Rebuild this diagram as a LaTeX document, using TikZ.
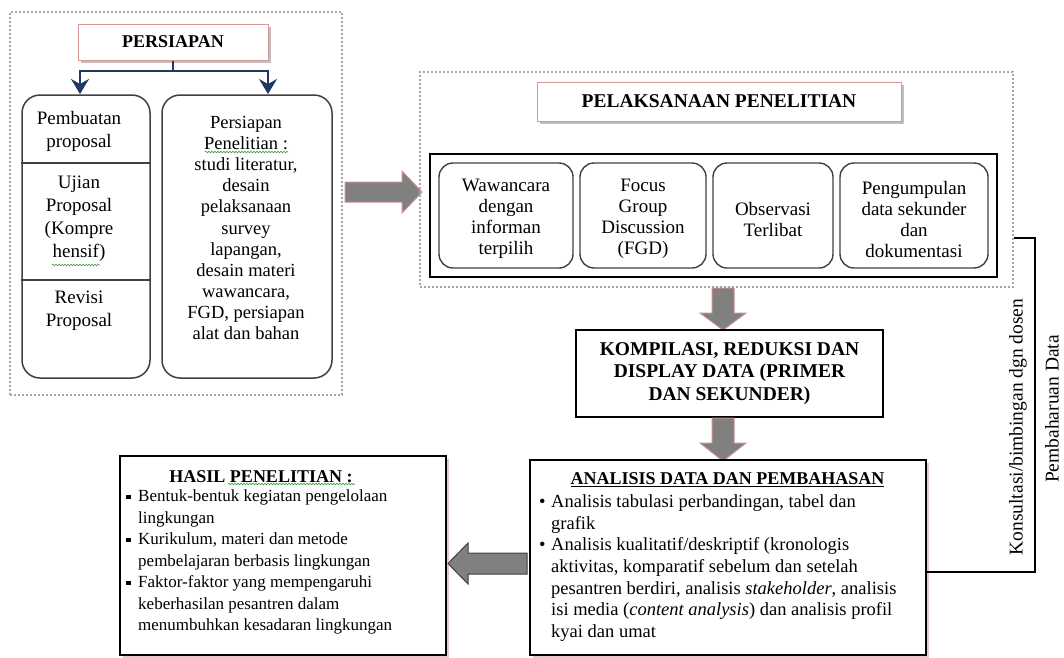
\documentclass[tikz,border=0pt]{standalone}
\usepackage{fontspec}
\setmainfont{Liberation Serif}
\usetikzlibrary{arrows.meta,decorations.pathmorphing,shadows,calc}
\definecolor{dotgray}{HTML}{A6A6A6}
\definecolor{pinkb}{HTML}{D99694}
\definecolor{shadowg}{HTML}{BFBFBF}
\definecolor{navy}{HTML}{1F3864}
\definecolor{arrgray}{HTML}{808080}
\definecolor{arrpink}{HTML}{C9908E}
\definecolor{boxline}{HTML}{404040}
\definecolor{wavy}{HTML}{33A02C}
\definecolor{pinkshadow}{HTML}{E3CACA}
\begin{document}
\begin{tikzpicture}[x=1pt,y=-1pt,
  dotbox/.style={draw=dotgray, line width=2.4pt, dash pattern=on 2pt off 2pt, inner sep=0pt},
  titlebox/.style={draw=pinkb, line width=1pt, fill=white, inner sep=0pt,
    drop shadow={shadow xshift=3pt, shadow yshift=-3pt, fill=shadowg, opacity=1}},
  rbox/.style={draw=boxline, line width=1.5pt, rounded corners=18pt, inner sep=0pt},
  ibox/.style={draw=boxline, line width=1.4pt, rounded corners=14pt, inner sep=0pt},
  sbox/.style={draw=black, line width=1.4pt, fill=white, inner sep=0pt},
  shbox/.style={sbox, drop shadow={shadow xshift=2.5pt, shadow yshift=-2.5pt, fill=pinkshadow, opacity=1}},
  txt/.style={inner sep=0pt, align=center, text=black},
  blockarrow/.style={fill=arrgray, draw=arrpink, line width=1pt},
  navyarrow/.style={draw=navy, line width=2pt, -{Stealth[length=15pt,width=18pt,inset=5pt]}},
  conn/.style={draw=black, line width=1.3pt},
  squiggle/.style={draw=wavy, line width=0.6pt, decorate, decoration={snake, amplitude=0.8pt, segment length=3pt}}
]
\useasboundingbox (0,0) rectangle (1064,657);

% ---------- PERSIAPAN ----------
\node[dotbox, minimum width=332pt, minimum height=383pt] (leftdots) at (176,203.5) {};
\node[titlebox, minimum width=190pt, minimum height=36pt, font=\bfseries\fontsize{18}{21}\selectfont] (persiapan) at (173,42) {PERSIAPAN};
\node[rbox, minimum width=128pt, minimum height=283pt] (leftcol) at (86,236.5) {};
\node[rbox, minimum width=170pt, minimum height=283pt] (rightcol) at (247,236.5) {};
\draw[boxline, line width=1.5pt] (leftcol.west |- 0,163) -- (leftcol.east |- 0,163);
\draw[boxline, line width=1.5pt] (leftcol.west |- 0,280) -- (leftcol.east |- 0,280);
\node[txt, font=\fontsize{19}{23}\selectfont] (pemb) at (79,131) {Pembuatan\\proposal};
\node[txt, font=\fontsize{19}{23}\selectfont] (ujian) at (79,219) {Ujian\\Proposal\\(Kompre\\hensif)};
\node[txt, font=\fontsize{19}{23}\selectfont] (revisi) at (79,311) {Revisi\\Proposal};
\node[txt, font=\fontsize{18.5}{21.1}\selectfont] (prep) at (246,228) {Persiapan\\Penelitian :\\studi literatur,\\desain\\pelaksanaan\\survey\\lapangan,\\desain materi\\wawancara,\\FGD, persiapan\\alat dan bahan};
\draw[squiggle] (205,152) -- (288,152);
\draw[squiggle] (52,265) -- (100,265);

\draw[navy, line width=2pt] (persiapan.south) -- ++(0,10) coordinate (pj);
\coordinate (la) at (80,94);
\coordinate (ra) at (268,94);
\draw[navyarrow] (pj) -| (la);
\draw[navyarrow] (pj) -| (ra);

% block arrow to PELAKSANAAN
\draw[blockarrow] (345,182) -- (402,182) -- (402,171) -- (422,192) -- (402,213) -- (402,202) -- (345,202) -- cycle;

% ---------- PELAKSANAAN ----------
\node[dotbox, minimum width=593pt, minimum height=215pt] (rightdots) at (716.5,179.5) {};
\node[titlebox, minimum width=364pt, minimum height=39pt, font=\bfseries\fontsize{19.5}{22}\selectfont] (pelak) at (719,101.5) {PELAKSANAAN PENELITIAN};
\node[draw=black, line width=1.4pt, inner sep=0pt, minimum width=567pt, minimum height=123pt] (inner) at (713.5,215.5) {};
\node[ibox, minimum width=134pt, minimum height=105pt] (b1) at (506,215.5) {};
\node[ibox, minimum width=126pt, minimum height=105pt] (b2) at (643,215.5) {};
\node[ibox, minimum width=120pt, minimum height=105pt] (b3) at (773,215.5) {};
\node[ibox, minimum width=148pt, minimum height=105pt] (b4) at (914,215.5) {};
\node[txt, font=\fontsize{19}{21}\selectfont] (b1t) at (506,219) {Wawancara\\dengan\\informan\\terpilih};
\node[txt, font=\fontsize{19}{21}\selectfont] (b2t) at (643,219) {Focus\\Group\\Discussion\\(FGD)};
\node[txt, font=\fontsize{19}{21}\selectfont] (b3t) at (773,219) {Observasi\\Terlibat};
\node[txt, font=\fontsize{19}{21}\selectfont] (b4t) at (914,219) {Pengumpulan\\data sekunder\\dan\\dokumentasi};

% down arrow 1
\draw[blockarrow] (712,288) -- (734,288) -- (734,313) -- (746,313) -- (723,330) -- (700,313) -- (712,313) -- cycle;

% ---------- KOMPILASI ----------
\node[sbox, minimum width=307pt, minimum height=87pt, font=\bfseries\fontsize{19.5}{22.5}\selectfont, align=center] (komp) at (729.5,373.5) {KOMPILASI, REDUKSI DAN\\DISPLAY DATA (PRIMER\\DAN SEKUNDER)};

% down arrow 2
\draw[blockarrow] (712,418) -- (734,418) -- (734,443) -- (746,443) -- (723,461) -- (700,443) -- (712,443) -- cycle;

% ---------- ANALISIS ----------
\node[shbox, minimum width=396pt, minimum height=195pt] (analisis) at (728,557.5) {};
\node[txt, font=\bfseries\fontsize{18}{21}\selectfont] (antitle) at (727.5,480) {\underline{ANALISIS DATA DAN PEMBAHASAN}};
\node[txt, align=left, anchor=west, font=\fontsize{18.5}{21.7}\selectfont] (anbody) at (539,568)
{\makebox[12pt][l]{•}Analisis tabulasi perbandingan, tabel dan\\
\hspace*{12pt}grafik\\
\makebox[12pt][l]{•}Analisis kualitatif/deskriptif (kronologis\\
\hspace*{12pt}aktivitas, komparatif sebelum dan setelah\\
\hspace*{12pt}pesantren berdiri, analisis \textit{stakeholder}, analisis\\
\hspace*{12pt}isi media (\textit{content analysis}) dan analisis profil\\
\hspace*{12pt}kyai dan umat};

% ---------- HASIL ----------
\node[shbox, minimum width=326pt, minimum height=199pt] (hasil) at (283,555.5) {};
\node[txt, font=\bfseries\fontsize{18}{21}\selectfont] (hastitle) at (261,477) {HASIL PENELITIAN :};
\draw[squiggle] (228,484) -- (355,484);
\node[txt, align=left, anchor=west, font=\fontsize{17}{21.5}\selectfont] (hasbody) at (126,562)
{\makebox[12pt][l]{\raisebox{2.5pt}{\rule{4.5pt}{4.5pt}}}Bentuk-bentuk kegiatan pengelolaan\\
\hspace*{12pt}lingkungan\\
\makebox[12pt][l]{\raisebox{2.5pt}{\rule{4.5pt}{4.5pt}}}Kurikulum, materi dan metode\\
\hspace*{12pt}pembelajaran berbasis lingkungan\\
\makebox[12pt][l]{\raisebox{2.5pt}{\rule{4.5pt}{4.5pt}}}Faktor-faktor yang mempengaruhi\\
\hspace*{12pt}keberhasilan pesantren dalam\\
\hspace*{12pt}menumbuhkan kesadaran lingkungan};

% left arrow
\draw[fill=arrgray, draw=boxline, line width=1pt] (527,553) -- (468,553) -- (468,543) -- (448,563.5) -- (468,584) -- (468,574) -- (527,574) -- cycle;

% ---------- feedback connector ----------
\coordinate (c1) at (1035,238);
\coordinate (c2) at (1035,572);
\draw[conn] (rightdots.east |- c1) -- (c1) -- (c2) -- (analisis.east |- c2);
\node[txt, rotate=90, font=\fontsize{19.5}{22}\selectfont] (konsul) at (1018,427) {Konsultasi/bimbingan dgn dosen};
\node[txt, rotate=90, font=\fontsize{19.5}{22}\selectfont] (pembah) at (1052,409) {Pembaharuan Data};
\end{tikzpicture}
\end{document}
